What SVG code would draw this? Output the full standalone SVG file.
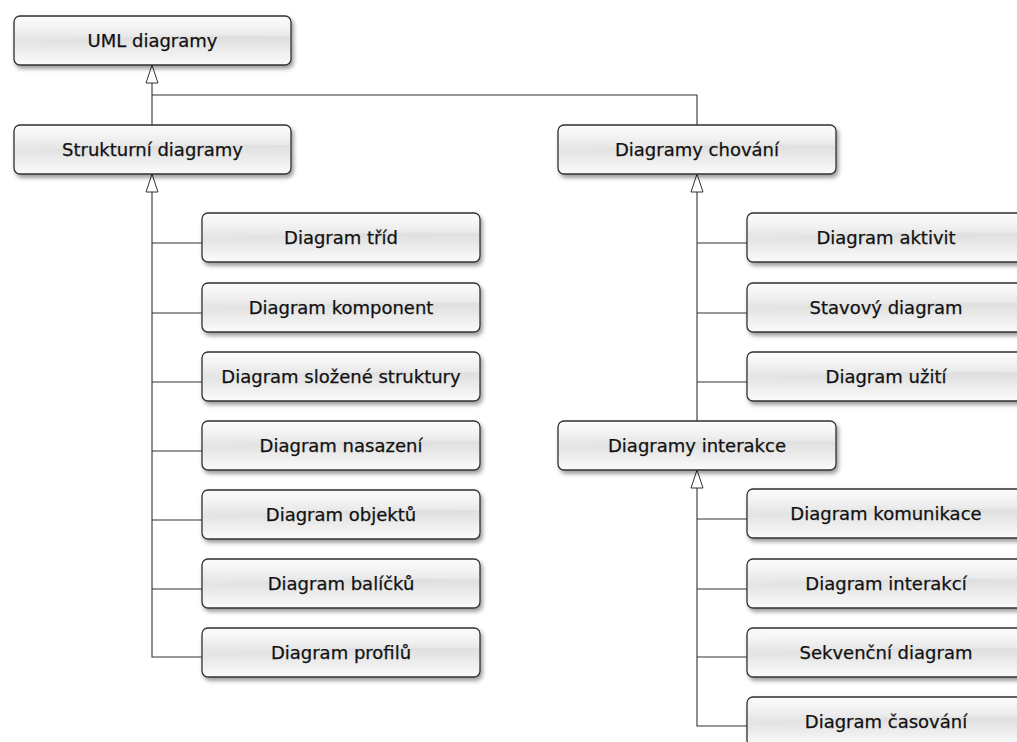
<svg xmlns="http://www.w3.org/2000/svg" width="1017" height="742" viewBox="0 0 1017 742">
<defs>
<linearGradient id="g" x1="0" y1="0" x2="0" y2="1">
<stop offset="0" stop-color="#efefef"/>
<stop offset="0.45" stop-color="#e0e0e0"/>
<stop offset="1" stop-color="#fbfbfb"/>
</linearGradient>
<linearGradient id="hl" x1="0" y1="0" x2="0" y2="1">
<stop offset="0" stop-color="#ffffff" stop-opacity="0.75"/>
<stop offset="1" stop-color="#ffffff" stop-opacity="0.1"/>
</linearGradient>
<filter id="sh" x="-10%" y="-20%" width="120%" height="150%">
<feDropShadow dx="2" dy="3" stdDeviation="2.2" flood-color="#000" flood-opacity="0.4"/>
</filter>
</defs>
<style>
.box{fill:url(#g);stroke:#333;stroke-width:1.3;filter:url(#sh)}
.gl{fill:url(#hl)}
.t{font-family:"DejaVu Sans",sans-serif;font-size:18px;fill:#111;stroke:#111;stroke-width:0.25;text-anchor:middle}
.c{fill:none;stroke:#333;stroke-width:1.1}
.ar{fill:#fff;stroke:#333;stroke-width:1}
</style>
<g id="connectors">
<path class="c" d="M152,83 V174"/>
<path class="c" d="M152,95 H697 V125"/>
<path class="c" d="M152,192 V657 H202"/>
<path class="c" d="M152,243 H202 M152,313 H202 M152,382 H202 M152,451 H202 M152,520 H202 M152,589 H202"/>
<path class="c" d="M697,192 V421"/>
<path class="c" d="M697,243 H747 M697,313 H747 M697,382 H747"/>
<path class="c" d="M697,488 V726 H747"/>
<path class="c" d="M697,519 H747 M697,589 H747 M697,657 H747"/>
<path class="ar" d="M152,65 L158,83 L146,83 Z"/>
<path class="ar" d="M152,174 L158,192 L146,192 Z"/>
<path class="ar" d="M697,174 L703,192 L691,192 Z"/>
<path class="ar" d="M697,470 L703,488 L691,488 Z"/>
</g>
<g id="n-uml"><rect class="box" x="14" y="16" width="277" height="49" rx="6"/><path class="gl" d="M15,22 Q15,17 20,17 H285 Q290,17 290,22 V36 Q152,34 15,42 Z"/><text class="t" x="152.5" y="47">UML diagramy</text></g>
<g id="n-strukturni"><rect class="box" x="14" y="125" width="277" height="49" rx="6"/><path class="gl" d="M15,131 Q15,126 20,126 H285 Q290,126 290,131 V145 Q152,143 15,151 Z"/><text class="t" x="152.5" y="156">Strukturní diagramy</text></g>
<g id="n-chovani"><rect class="box" x="558" y="125" width="278" height="49" rx="6"/><path class="gl" d="M559,131 Q559,126 564,126 H830 Q835,126 835,131 V145 Q697,143 559,151 Z"/><text class="t" x="697" y="156">Diagramy chování</text></g>
<g id="n-trid"><rect class="box" x="202" y="213" width="278" height="49" rx="6"/><path class="gl" d="M203,219 Q203,214 208,214 H474 Q479,214 479,219 V233 Q341,231 203,239 Z"/><text class="t" x="341" y="244">Diagram tříd</text></g>
<g id="n-komponent"><rect class="box" x="202" y="283" width="278" height="49" rx="6"/><path class="gl" d="M203,289 Q203,284 208,284 H474 Q479,284 479,289 V303 Q341,301 203,309 Z"/><text class="t" x="341" y="314">Diagram komponent</text></g>
<g id="n-slozene"><rect class="box" x="202" y="352" width="278" height="49" rx="6"/><path class="gl" d="M203,358 Q203,353 208,353 H474 Q479,353 479,358 V372 Q341,370 203,378 Z"/><text class="t" x="341" y="383">Diagram složené struktury</text></g>
<g id="n-nasazeni"><rect class="box" x="202" y="421" width="278" height="49" rx="6"/><path class="gl" d="M203,427 Q203,422 208,422 H474 Q479,422 479,427 V441 Q341,439 203,447 Z"/><text class="t" x="341" y="452">Diagram nasazení</text></g>
<g id="n-objektu"><rect class="box" x="202" y="490" width="278" height="49" rx="6"/><path class="gl" d="M203,496 Q203,491 208,491 H474 Q479,491 479,496 V510 Q341,508 203,516 Z"/><text class="t" x="341" y="521">Diagram objektů</text></g>
<g id="n-balicku"><rect class="box" x="202" y="559" width="278" height="49" rx="6"/><path class="gl" d="M203,565 Q203,560 208,560 H474 Q479,560 479,565 V579 Q341,577 203,585 Z"/><text class="t" x="341" y="590">Diagram balíčků</text></g>
<g id="n-profilu"><rect class="box" x="202" y="628" width="278" height="49" rx="6"/><path class="gl" d="M203,634 Q203,629 208,629 H474 Q479,629 479,634 V648 Q341,646 203,654 Z"/><text class="t" x="341" y="659">Diagram profilů</text></g>
<g id="n-aktivit"><rect class="box" x="747" y="213" width="278" height="49" rx="6"/><path class="gl" d="M748,219 Q748,214 753,214 H1019 Q1024,214 1024,219 V233 Q886,231 748,239 Z"/><text class="t" x="886" y="244">Diagram aktivit</text></g>
<g id="n-stavovy"><rect class="box" x="747" y="283" width="278" height="49" rx="6"/><path class="gl" d="M748,289 Q748,284 753,284 H1019 Q1024,284 1024,289 V303 Q886,301 748,309 Z"/><text class="t" x="886" y="314">Stavový diagram</text></g>
<g id="n-uziti"><rect class="box" x="747" y="352" width="278" height="49" rx="6"/><path class="gl" d="M748,358 Q748,353 753,353 H1019 Q1024,353 1024,358 V372 Q886,370 748,378 Z"/><text class="t" x="886" y="383">Diagram užití</text></g>
<g id="n-interakce"><rect class="box" x="558" y="421" width="278" height="49" rx="6"/><path class="gl" d="M559,427 Q559,422 564,422 H830 Q835,422 835,427 V441 Q697,439 559,447 Z"/><text class="t" x="697" y="452">Diagramy interakce</text></g>
<g id="n-komunikace"><rect class="box" x="747" y="489" width="278" height="49" rx="6"/><path class="gl" d="M748,495 Q748,490 753,490 H1019 Q1024,490 1024,495 V509 Q886,507 748,515 Z"/><text class="t" x="886" y="520">Diagram komunikace</text></g>
<g id="n-interakci"><rect class="box" x="747" y="559" width="278" height="49" rx="6"/><path class="gl" d="M748,565 Q748,560 753,560 H1019 Q1024,560 1024,565 V579 Q886,577 748,585 Z"/><text class="t" x="886" y="590">Diagram interakcí</text></g>
<g id="n-sekvencni"><rect class="box" x="747" y="628" width="278" height="49" rx="6"/><path class="gl" d="M748,634 Q748,629 753,629 H1019 Q1024,629 1024,634 V648 Q886,646 748,654 Z"/><text class="t" x="886" y="659">Sekvenční diagram</text></g>
<g id="n-casovani"><rect class="box" x="747" y="697" width="278" height="49" rx="6"/><path class="gl" d="M748,703 Q748,698 753,698 H1019 Q1024,698 1024,703 V717 Q886,715 748,723 Z"/><text class="t" x="886" y="728">Diagram časování</text></g>
</svg>
